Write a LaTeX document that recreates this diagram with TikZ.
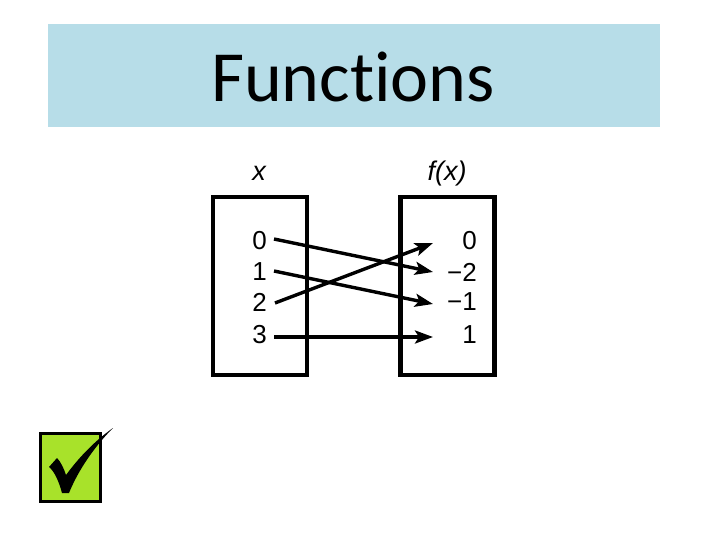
\documentclass[tikz,border=0pt]{standalone}
\usepackage{fontspec}
\setmainfont{Liberation Sans}
\newfontfamily\titlefont[Ligatures=NoCommon]{Carlito}
\usetikzlibrary{arrows.meta}
\definecolor{banner}{HTML}{B7DDE8}
\definecolor{checkgreen}{HTML}{A8E22A}
\tikzset{
  setbox/.style={draw=black, line width=4.5pt, minimum width=94pt, minimum height=178pt, inner sep=0pt},
  num/.style={font=\fontsize{26}{26}\selectfont, anchor=east, inner sep=0pt},
  head/.style={font=\fontsize{27}{27}\selectfont\itshape, inner sep=0pt},
  maparrow/.style={line width=3.4pt, -{Stealth[length=18pt,width=13pt,inset=4pt]}}
}
\begin{document}
\begin{tikzpicture}[x=1pt,y=-1pt]
\useasboundingbox (0,0) rectangle (720,540);
\fill[white] (0,0) rectangle (720,540);
% banner
\node[fill=banner, minimum width=612pt, minimum height=103pt, inner sep=0pt] (banner) at (354,75.5) {};
\node[font=\titlefont\fontsize{72}{72}\selectfont, inner sep=0pt] (title) at (353,77) {Functions};
% boxes
\node[setbox] (L) at (260,286) {};
\node[setbox] (R) at (447.5,286) {};
\node[head] (hx) at (259,173) {x};
\node[head] (hf) at (447,174) {f(x)};
% domain
\node[num] (x0) at (267,241) {0};
\node[num] (x1) at (267,272) {1};
\node[num] (x2) at (267,302) {2};
\node[num] (x3) at (267,335) {3};
% range
\node[num] (y0) at (477,241) {0};
\node[num] (y1) at (477,272) {\textminus2};
\node[num] (y2) at (477,302) {\textminus1};
\node[num] (y3) at (477,335) {1};
% arrows
\coordinate (s0) at (274,239);
\coordinate (s1) at (274,271);
\coordinate (s2) at (275,303);
\coordinate (s3) at (274,337);
\coordinate (t0) at (433,243);
\coordinate (t1) at (433,272);
\coordinate (t2) at (433,304);
\coordinate (t3) at (433,337);
\draw[maparrow] (s0) -- (t1);
\draw[maparrow] (s1) -- (t2);
\draw[maparrow] (s2) -- (t0);
\draw[maparrow] (s3) -- (t3);
% check box
\node[draw=black, line width=3pt, fill=checkgreen, minimum width=60pt, minimum height=68pt, inner sep=0pt] (cb) at (70,467) {};
\fill[black] (49,467) -- (57,458) .. controls (61,462) and (64,469) .. (66,475)
  .. controls (80,456) and (96,440) .. (113,428)
  .. controls (98,443) and (80,466) .. (69,493)
  -- (62,493) .. controls (59,482) and (55,472) .. (49,467) -- cycle;
\end{tikzpicture}
\end{document}
